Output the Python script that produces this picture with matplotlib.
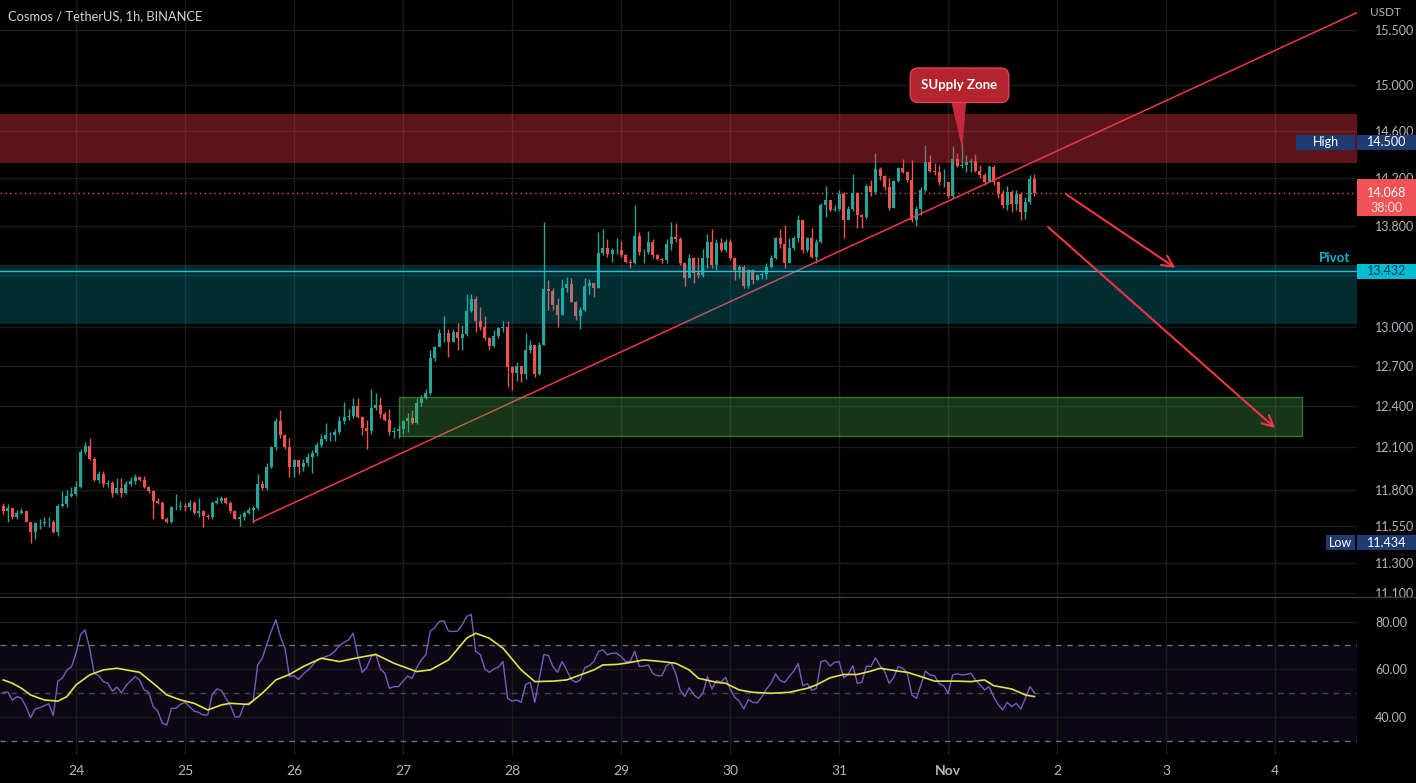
import numpy as np
import pandas as pd
import matplotlib
matplotlib.use("Agg")
import matplotlib.pyplot as plt
from matplotlib.patches import Rectangle, Polygon
from matplotlib.lines import Line2D
from matplotlib.ticker import NullLocator

plt.rcParams["font.family"] = ["Lato", "DejaVu Sans"]

# ---- hourly candles ATOM/USDT, first bar 2022-10-23 08:00 ----
first_open = 11.69
closes = [
    11.65, 11.67, 11.61, 11.64, 11.65, 11.58, 11.51, 11.57, 11.57, 11.58,
    11.58, 11.51, 11.69, 11.70, 11.76, 11.77, 11.82, 12.07, 12.11, 12.02,
    11.87, 11.91, 11.84, 11.85, 11.78, 11.81, 11.78, 11.84, 11.86, 11.89,
    11.87, 11.82, 11.79, 11.72, 11.71, 11.60, 11.58, 11.68, 11.68, 11.69,
    11.68, 11.71, 11.64, 11.65, 11.62, 11.61, 11.71, 11.72, 11.74, 11.71,
    11.65, 11.60, 11.61, 11.64, 11.66, 11.67, 11.84, 11.81, 11.96, 12.10,
    12.29, 12.19, 12.10, 11.96, 12.01, 11.96, 11.99, 12.03, 12.06, 12.12,
    12.16, 12.19, 12.19, 12.21, 12.29, 12.32, 12.33, 12.40, 12.32, 12.24,
    12.22, 12.39, 12.41, 12.34, 12.30, 12.21, 12.22, 12.23, 12.29, 12.31,
    12.28, 12.42, 12.46, 12.50, 12.76, 12.84, 12.95, 12.95, 12.88, 12.96,
    12.91, 12.94, 13.12, 13.21, 13.04, 13.00, 12.91, 12.85, 12.93, 12.99,
    13.00, 12.69, 12.65, 12.70, 12.64, 12.82, 12.86, 12.64, 12.86, 13.29,
    13.28, 13.17, 13.09, 13.30, 13.33, 13.19, 13.08, 13.13, 13.32, 13.34,
    13.30, 13.58, 13.62, 13.57, 13.60, 13.60, 13.56, 13.51, 13.50, 13.72,
    13.59, 13.59, 13.67, 13.56, 13.53, 13.52, 13.65, 13.71, 13.69, 13.50,
    13.38, 13.54, 13.42, 13.40, 13.54, 13.67, 13.48, 13.66, 13.60, 13.67,
    13.54, 13.44, 13.47, 13.32, 13.44, 13.36, 13.40, 13.41, 13.47, 13.54,
    13.70, 13.65, 13.50, 13.62, 13.70, 13.85, 13.60, 13.70, 13.55, 13.67,
    13.97, 14.01, 13.93, 13.94, 14.06, 13.85, 13.94, 14.07, 13.89, 13.87,
    14.13, 14.08, 14.27, 14.21, 14.12, 13.95, 14.17, 14.28, 14.25, 14.18,
    13.85, 13.94, 14.10, 14.33, 14.26, 14.25, 14.16, 14.16, 14.05, 14.36,
    14.30, 14.31, 14.33, 14.34, 14.26, 14.22, 14.16, 14.29, 14.16, 14.06,
    13.97, 14.08, 13.98, 14.06, 13.91, 14.00, 14.19, 14.068,
]
highs = [
    11.71, 11.70, 11.67, 11.66, 11.67, 11.65, 11.58, 11.58, 11.60, 11.61,
    11.61, 11.59, 11.70, 11.79, 11.80, 11.82, 11.86, 12.09, 12.14, 12.17,
    12.03, 11.93, 11.93, 11.87, 11.86, 11.88, 11.88, 11.86, 11.89, 11.91,
    11.90, 11.90, 11.83, 11.80, 11.74, 11.72, 11.61, 11.69, 11.77, 11.72,
    11.71, 11.73, 11.72, 11.74, 11.66, 11.63, 11.72, 11.75, 11.76, 11.75,
    11.72, 11.66, 11.63, 11.65, 11.68, 11.69, 11.91, 11.86, 11.99, 12.11,
    12.31, 12.37, 12.20, 12.17, 12.02, 12.01, 12.02, 12.06, 12.08, 12.14,
    12.20, 12.28, 12.21, 12.23, 12.33, 12.43, 12.38, 12.46, 12.46, 12.33,
    12.30, 12.53, 12.50, 12.47, 12.36, 12.38, 12.25, 12.26, 12.30, 12.35,
    12.37, 12.46, 12.48, 12.53, 12.82, 12.85, 12.98, 13.08, 12.98, 12.98,
    13.03, 13.01, 13.25, 13.25, 13.24, 13.15, 13.08, 12.92, 12.97, 13.00,
    13.04, 13.04, 12.70, 12.73, 12.70, 12.95, 12.90, 12.86, 12.88, 13.83,
    13.36, 13.30, 13.22, 13.37, 13.39, 13.38, 13.20, 13.15, 13.38, 13.37,
    13.34, 13.75, 13.77, 13.69, 13.62, 13.70, 13.68, 13.57, 13.53, 13.97,
    13.75, 13.61, 13.76, 13.69, 13.57, 13.54, 13.69, 13.83, 13.82, 13.71,
    13.50, 13.57, 13.55, 13.55, 13.61, 13.73, 13.77, 13.69, 13.70, 13.69,
    13.69, 13.55, 13.48, 13.48, 13.45, 13.45, 13.41, 13.43, 13.50, 13.56,
    13.71, 13.77, 13.81, 13.70, 13.72, 13.89, 13.85, 13.71, 13.78, 13.69,
    13.99, 14.13, 14.01, 13.97, 14.10, 14.08, 13.96, 14.23, 14.08, 13.90,
    14.15, 14.18, 14.41, 14.29, 14.22, 14.20, 14.18, 14.29, 14.36, 14.26,
    14.35, 13.96, 14.12, 14.48, 14.39, 14.32, 14.31, 14.27, 14.16, 14.47,
    14.41, 14.50, 14.39, 14.37, 14.40, 14.31, 14.24, 14.31, 14.31, 14.17,
    14.10, 14.13, 14.10, 14.10, 14.08, 14.04, 14.22, 14.23,
]
lows = [
    11.63, 11.58, 11.60, 11.60, 11.63, 11.58, 11.434, 11.46, 11.53, 11.55,
    11.54, 11.50, 11.48, 11.68, 11.68, 11.75, 11.76, 11.81, 12.05, 12.01,
    11.86, 11.85, 11.82, 11.82, 11.75, 11.77, 11.75, 11.77, 11.83, 11.84,
    11.86, 11.81, 11.78, 11.60, 11.70, 11.60, 11.57, 11.57, 11.66, 11.66,
    11.65, 11.66, 11.63, 11.61, 11.54, 11.60, 11.60, 11.70, 11.71, 11.70,
    11.64, 11.60, 11.55, 11.59, 11.63, 11.57, 11.66, 11.80, 11.80, 11.95,
    12.08, 12.17, 12.09, 11.89, 11.89, 11.91, 11.93, 11.97, 11.92, 12.04,
    12.10, 12.15, 12.15, 12.15, 12.20, 12.27, 12.30, 12.31, 12.31, 12.19,
    12.09, 12.20, 12.37, 12.31, 12.29, 12.19, 12.17, 12.17, 12.20, 12.21,
    12.27, 12.27, 12.40, 12.45, 12.48, 12.74, 12.86, 12.88, 12.77, 12.88,
    12.82, 12.82, 12.93, 13.11, 12.96, 12.97, 12.90, 12.82, 12.84, 12.91,
    12.96, 12.54, 12.52, 12.59, 12.58, 12.60, 12.80, 12.62, 12.63, 12.86,
    13.13, 13.13, 13.00, 13.09, 13.27, 13.19, 13.05, 12.98, 13.12, 13.25,
    13.23, 13.30, 13.56, 13.55, 13.51, 13.57, 13.55, 13.50, 13.46, 13.49,
    13.56, 13.50, 13.57, 13.54, 13.52, 13.50, 13.50, 13.60, 13.67, 13.48,
    13.32, 13.39, 13.34, 13.38, 13.39, 13.46, 13.46, 13.44, 13.59, 13.59,
    13.52, 13.36, 13.38, 13.30, 13.30, 13.33, 13.36, 13.37, 13.37, 13.46,
    13.53, 13.62, 13.46, 13.50, 13.60, 13.67, 13.58, 13.59, 13.54, 13.50,
    13.66, 13.87, 13.92, 13.92, 13.92, 13.70, 13.86, 13.92, 13.78, 13.78,
    13.86, 14.05, 14.06, 14.18, 14.10, 13.93, 13.95, 14.16, 14.24, 14.16,
    13.83, 13.80, 13.89, 14.08, 14.25, 14.22, 14.14, 14.12, 14.03, 14.03,
    14.29, 14.28, 14.25, 14.25, 14.25, 14.20, 14.14, 14.17, 14.14, 14.03,
    13.95, 13.93, 13.91, 13.93, 13.85, 13.86, 13.98, 14.05,
]

rsi_values = [
    50.3, 50.4, 47.0, 48.5, 47.8, 44.3, 39.6, 43.3, 43.8, 44.7,
    45.5, 40.5, 55.0, 56.2, 59.7, 61.0, 66.7, 74.4, 76.5, 68.8,
    58.3, 57.3, 54.8, 54.1, 50.8, 52.5, 50.1, 53.1, 55.0, 56.9,
    55.5, 51.3, 50.3, 44.3, 42.4, 37.3, 36.6, 43.6, 43.6, 45.2,
    46.1, 44.3, 42.4, 41.9, 40.8, 40.8, 49.4, 51.7, 51.1, 47.8,
    44.7, 40.0, 40.0, 45.0, 45.8, 46.6, 61.8, 64.6, 70.4, 76.0,
    80.7, 73.7, 68.8, 56.9, 57.3, 55.7, 58.0, 59.5, 61.5, 63.7,
    64.6, 65.3, 66.0, 67.6, 69.9, 71.3, 72.3, 75.1, 66.0, 58.7,
    60.6, 65.3, 66.4, 60.1, 58.3, 52.0, 52.7, 52.7, 55.0, 57.1,
    56.2, 60.6, 63.9, 66.0, 76.0, 77.5, 80.0, 80.3, 76.0, 75.8,
    76.0, 78.6, 82.1, 83.0, 67.4, 66.2, 60.1, 58.7, 60.1, 60.9,
    63.2, 47.8, 46.6, 47.1, 46.1, 53.6, 54.5, 46.1, 56.2, 66.2,
    65.7, 61.1, 58.7, 63.2, 59.7, 55.7, 54.5, 55.5, 60.6, 61.5,
    63.2, 67.4, 68.1, 66.0, 66.7, 66.7, 65.3, 63.2, 63.2, 67.6,
    61.1, 61.3, 61.8, 58.1, 57.3, 57.3, 61.5, 62.7, 58.3, 51.3,
    48.5, 52.2, 49.2, 47.8, 49.9, 56.9, 51.7, 55.3, 54.5, 56.6,
    51.7, 48.3, 46.6, 43.3, 47.2, 46.1, 45.9, 48.5, 51.7, 54.1,
    58.0, 55.3, 54.5, 56.9, 59.2, 62.3, 53.1, 53.9, 51.1, 52.0,
    63.2, 63.7, 61.3, 62.9, 63.2, 56.4, 57.8, 61.5, 54.1, 54.5,
    61.3, 61.1, 64.8, 61.5, 59.2, 54.1, 56.4, 61.1, 60.4, 58.3,
    49.2, 47.8, 53.4, 59.2, 57.6, 57.3, 53.9, 53.1, 49.9, 57.6,
    58.1, 57.6, 57.8, 58.3, 55.5, 53.6, 51.3, 52.7, 48.5, 45.2,
    42.9, 46.1, 44.3, 45.7, 43.3, 47.8, 52.7, 50.1,
]
# RSI-based moving average (yellow), read at these bars
ma_bars = [0, 2, 4, 6, 9, 12, 14, 16, 19, 22, 25, 30, 33, 36, 39, 42, 45, 48,
           50, 54, 57, 60, 63, 66, 70, 74, 78, 82, 86, 91, 94, 98, 102, 104,
           107, 110, 114, 117, 121, 124, 127, 130, 132, 135, 137, 141, 145,
           148, 151, 153, 157, 159, 162, 165, 169, 173, 177, 179, 182, 185,
           188, 191, 193, 197, 199, 202, 205, 210, 213, 216, 218, 222, 225, 227]
ma_values = [55.5, 54.1, 52.0, 49.2, 47.1, 46.6, 48.5, 53.4, 57.6, 59.7, 60.4,
             58.7, 54.1, 49.2, 47.1, 45.7, 42.9, 45.0, 45.7, 45.2, 49.9, 55.5,
             57.8, 61.1, 64.6, 63.2, 64.8, 66.2, 62.5, 59.0, 59.7, 63.9, 73.0,
             75.1, 73.0, 68.8, 59.7, 54.8, 55.0, 55.5, 57.6, 59.7, 61.8, 62.0,
             62.5, 63.9, 63.2, 62.5, 59.7, 56.2, 54.5, 54.1, 51.3, 50.3, 49.9,
             50.3, 52.0, 53.4, 56.4, 57.8, 57.8, 59.2, 60.4, 59.2, 58.7, 56.9,
             55.0, 55.0, 54.8, 55.5, 53.1, 51.7, 49.2, 48.5]

start_time = pd.Timestamp("2022-10-23 08:00")
day_ticks = pd.date_range("2022-10-24", "2022-11-04", freq="D")
price_ticks = [15.5, 15.0, 14.6, 14.2, 13.8, 13.4, 13.0, 12.7, 12.4, 12.1, 11.8, 11.55, 11.3, 11.1]
hidden_ticks = [13.4]
rsi_ticks = [40, 60, 80]

# drawings
supply_zone = (14.32, 14.75)
pivot_zone = (13.02, 13.48)
pivot_level = 13.432
demand_zone = (12.18, 12.47)
demand_span = ("2022-10-26 23:00", "2022-11-04 06:00")
trend_a = ("2022-10-25 15:00", 11.58)
trend_b = ("2022-11-04 18:00", 15.66)
arrows = [
    (("2022-11-02 02:00", 14.06), ("2022-11-03 02:00", 13.46)),
    (("2022-11-01 22:00", 13.79), ("2022-11-04 00:00", 12.24)),
]
supply_label = ("2022-11-01 02:30", 15.00)
supply_tip = ("2022-11-01 03:06", 14.44)

BG = "#000000"
GRID = "#1b1b1b"
TXT = "#b2b5be"
UP = "#26a69a"
DOWN = "#ef5350"
W, H = 1416, 783


def hx(t):
    return (pd.Timestamp(t) - start_time) / pd.Timedelta(hours=1)


fig = plt.figure(figsize=(W / 100, H / 100), dpi=100, facecolor=BG)
ax = fig.add_axes([0, 186 / H, 1357 / W, 597 / H])
rx = fig.add_axes([0, 28 / H, 1357 / W, 158 / H], sharex=ax)
for a in (ax, rx):
    a.set_facecolor(BG)
    for s in a.spines.values():
        s.set_visible(False)

ax.set_yscale("log")
ax.set_ylim(11.073, 15.778)
ax.set_xlim(-0.73, 298.0)

# candles
x = np.arange(len(closes))
cl = np.array(closes)
op = np.array([first_open] + closes[:-1])
cols = np.where(cl >= op, UP, DOWN)
ax.vlines(x, lows, highs, colors=cols, lw=1, zorder=2)
ax.bar(x, np.abs(cl - op), bottom=np.minimum(cl, op), width=0.66,
       color=cols, lw=0, zorder=2.2)

# last price dotted line
ax.axhline(cl[-1], color=DOWN, lw=1, ls=(0, (1, 2.5)), zorder=1.5)

# trendline and zones
ax.plot([hx(trend_a[0]), hx(trend_b[0])], [trend_a[1], trend_b[1]],
        color="#f23645", lw=1.1, zorder=2.5)
ax.axhspan(*supply_zone, color="#f23645", alpha=0.38, lw=0, zorder=3)
ax.axhspan(*pivot_zone, color="#00bcd4", alpha=0.24, lw=0, zorder=3)
ax.axhline(pivot_level, color="#26c6da", lw=1, zorder=3.5)
d0, d1 = hx(demand_span[0]), hx(demand_span[1])
ax.add_patch(Rectangle((d0, demand_zone[0]), d1 - d0, demand_zone[1] - demand_zone[0],
                       fc=(0.30, 0.69, 0.31, 0.30), ec=(0.30, 0.69, 0.31, 0.6),
                       lw=1, zorder=3))

for (t0, p0), (t1, p1) in arrows:
    ax.annotate("", xy=(hx(t1), p1), xytext=(hx(t0), p0),
                arrowprops=dict(arrowstyle="->,head_length=0.8,head_width=0.4",
                                color="#f23645", lw=1.5, shrinkA=0, shrinkB=0),
                zorder=5)

# supply zone callout
lx, ly = hx(supply_label[0]), supply_label[1]
tx, ty = hx(supply_tip[0]), supply_tip[1]
ax.add_patch(Polygon([(lx - 2.2, 14.92), (lx + 1.6, 14.92), (tx, ty)],
                     closed=True, fc="#c62a3a", ec="none", zorder=6))
ax.text(lx, ly, "SUpply Zone", ha="center", va="center", color="white",
        fontsize=9.5, fontweight="bold", zorder=7,
        bbox=dict(boxstyle="round,pad=0.85,rounding_size=0.6", fc="#b5232f",
                  ec="#e04454", lw=1))

# price axis
ax.yaxis.tick_right()
ax.set_yticks(price_ticks)
ax.set_yticklabels(["" if v in hidden_ticks else f"{v:.3f}" for v in price_ticks])
ax.yaxis.set_minor_locator(NullLocator())
ax.tick_params(axis="y", length=0, pad=13, labelcolor=TXT, labelsize=9)
ax.set_xticks([hx(d) for d in day_ticks])
ax.tick_params(axis="x", length=0, labelbottom=False)
ax.grid(True, color=GRID, lw=1, zorder=0)
ax.set_axisbelow(True)

# RSI pane
rx.set_ylim(24.0, 90.3)
rx.axhspan(30, 70, color=(126 / 255, 87 / 255, 194 / 255, 0.1), lw=0, zorder=0.5)
for lvl, alp in ((70, 0.9), (50, 0.55), (30, 0.9)):
    rx.axhline(lvl, color="#787b86", lw=1, ls=(0, (4, 4)), alpha=alp, zorder=1)
rx.plot(x, rsi_values, color="#7e57c2", lw=1, zorder=2)
rx.plot(ma_bars, ma_values, color="#e3e24a", lw=1.2, zorder=3)
rx.yaxis.tick_right()
rx.set_yticks(rsi_ticks)
rx.set_yticklabels([f"{v:.2f}" for v in rsi_ticks])
rx.tick_params(axis="y", length=0, pad=13, labelcolor=TXT, labelsize=9)
rx.set_xticks([hx(d) for d in day_ticks])
rx.set_xticklabels(["Nov" if d.day == 1 else str(d.day) for d in day_ticks])
rx.tick_params(axis="x", length=0, pad=7, labelcolor=TXT, labelsize=10)
for lab in rx.get_xticklabels():
    if lab.get_text() == "Nov":
        lab.set_fontweight("bold")
rx.grid(True, color=GRID, lw=1, zorder=0)
rx.set_axisbelow(True)

# pane separator
fig.add_artist(Line2D([0, 1], [186 / H, 186 / H], color="#3a3d45", lw=1))


# tags on the price scale
def tag(price, text, fc, tc, x0=1357, x1=1416, h=15, bold=False):
    yp = ax.transData.transform((0, price))[1]
    fig.add_artist(Rectangle((x0 / W, (yp - h / 2) / H), (x1 - x0) / W, h / H,
                             transform=fig.transFigure, fc=fc, ec="none"))
    fig.text((x0 + x1) / 2 / W, yp / H, text, ha="center", va="center",
             color=tc, fontsize=9, fontweight="bold" if bold else "normal")


hi, lo = max(highs), min(lows)
tag(hi, "High", "#1f3c72", "white", 1296, 1355)
tag(hi, f"{hi:.3f}", "#1f3c72", "white")
tag(lo, "Low", "#1f3c72", "white", 1326, 1355)
tag(lo, f"{lo:.3f}", "#1f3c72", "white")
tag(pivot_level, f"{pivot_level:.3f}", "#00bcd4", "#0a3d47")

yp = ax.transData.transform((0, cl[-1]))[1]
fig.add_artist(Rectangle((1357 / W, (yp - 23) / H), 59 / W, 37 / H,
                         transform=fig.transFigure, fc="#f05256", ec="none"))
fig.text(1386.5 / W, yp / H, f"{cl[-1]:.3f}", ha="center", va="center",
         color="white", fontsize=9)
fig.text(1386.5 / W, (yp - 15) / H, "38:00", ha="center", va="center",
         color="#fde0e0", fontsize=9)

ypv = ax.transData.transform((0, pivot_level))[1]
fig.text(1335 / W, (ypv + 13) / H, "Pivot", ha="center", va="center",
         color="#00bcd4", fontsize=9.5, fontweight="bold")

fig.text(1370 / W, 1 - 13 / H, "USDT", ha="left", va="center", color=TXT, fontsize=8.5)
fig.text(8 / W, 1 - 16 / H, "Cosmos / TetherUS, 1h, BINANCE", ha="left", va="center",
         color="#d1d4dc", fontsize=9.3)

fig.savefig("out.png", dpi=100, facecolor=BG)
